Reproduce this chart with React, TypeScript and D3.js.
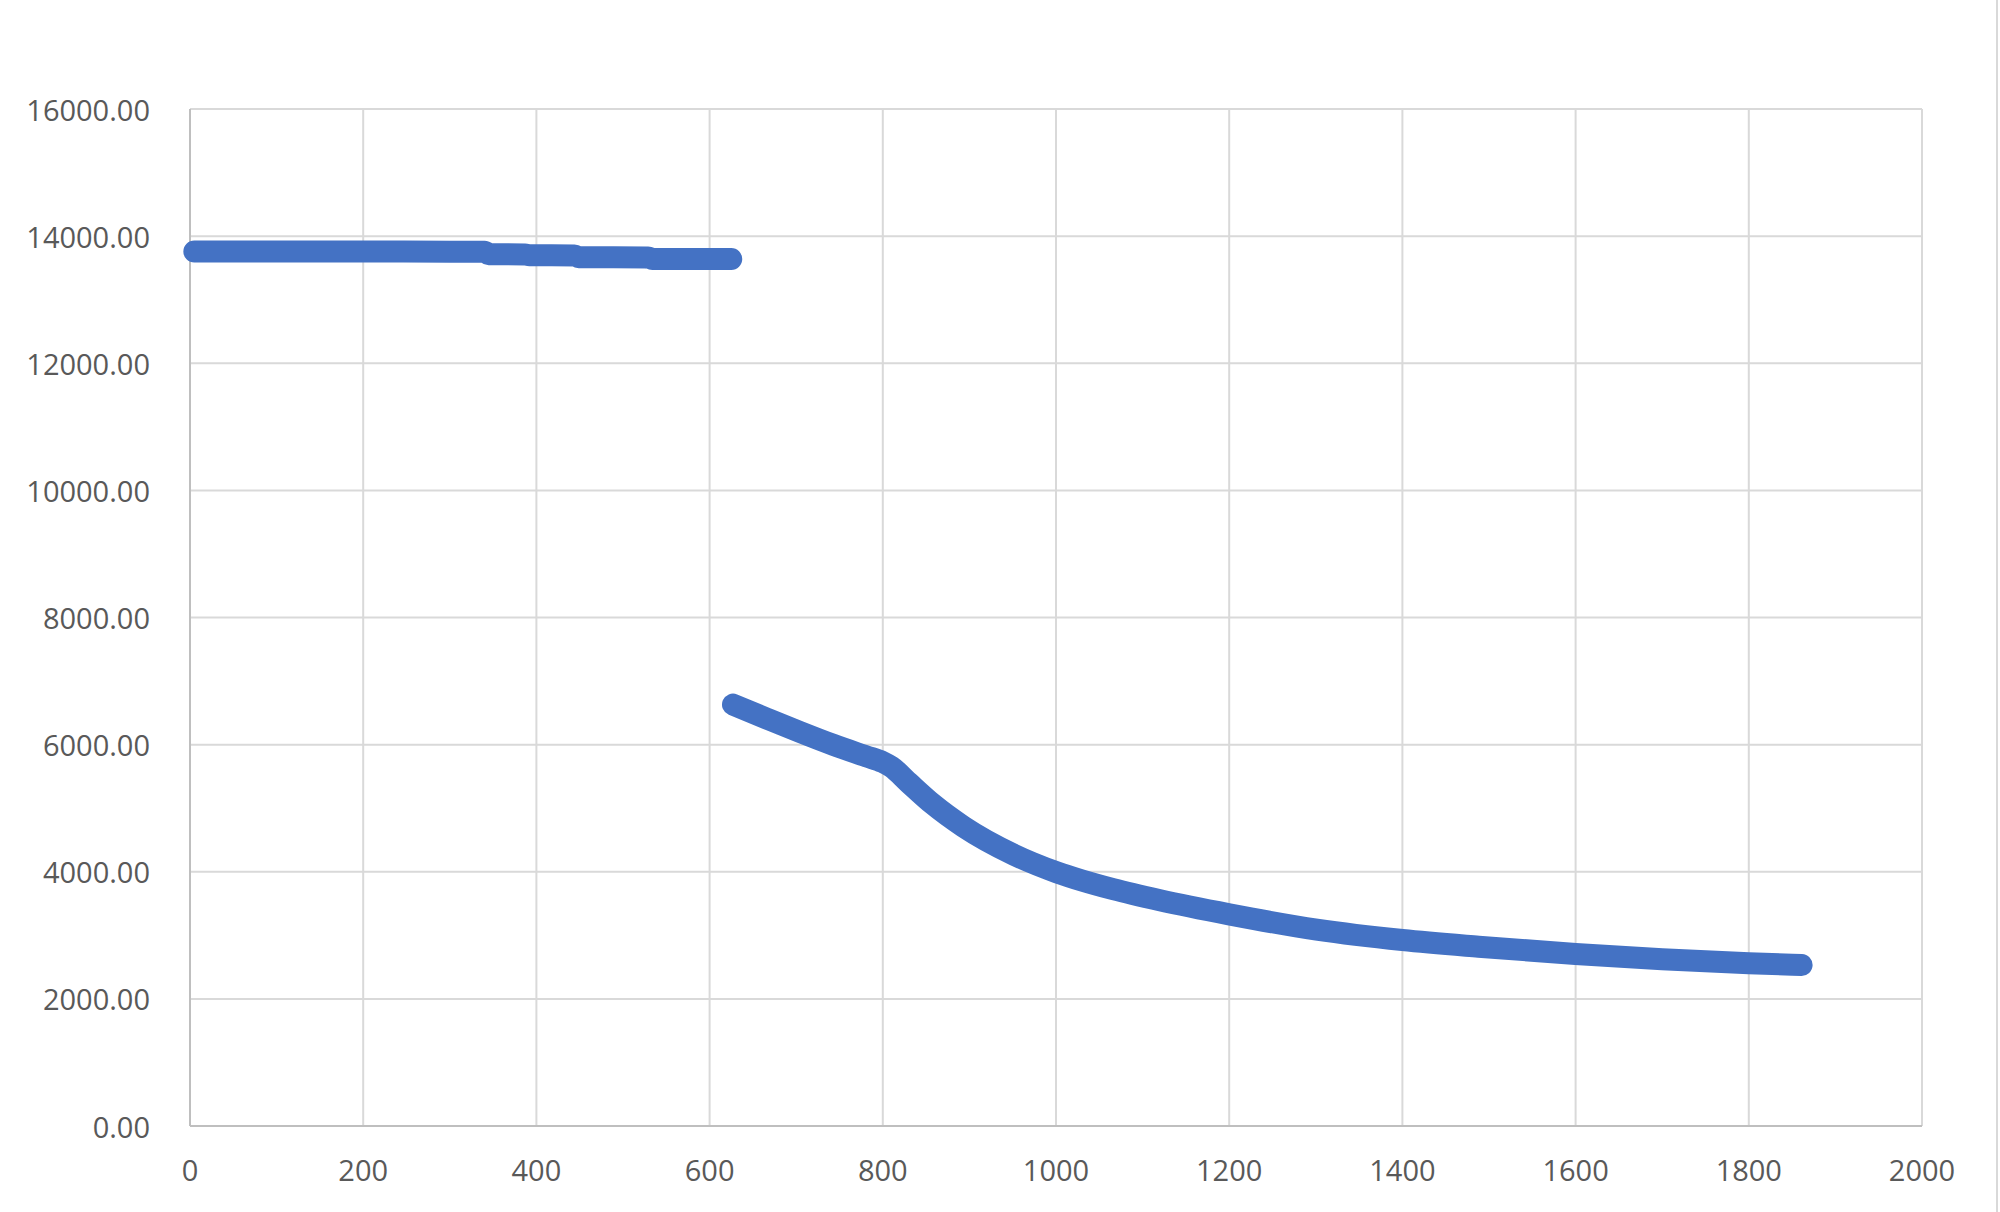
import React from "react";
import * as d3 from "d3";

const xTicks = [0, 200, 400, 600, 800, 1000, 1200, 1400, 1600, 1800, 2000];
const yTicks = [0, 2000, 4000, 6000, 8000, 10000, 12000, 14000, 16000];

const seg1X = [5, 100, 200, 300, 340, 345, 387, 392, 444, 449, 529, 534, 625];
const seg1Y = [13758, 13758, 13758, 13756, 13754, 13716, 13712, 13700, 13697, 13668, 13665, 13642, 13640];

const seg2X = [627, 666, 704, 743, 781, 800, 810, 830, 858, 893, 951, 1001, 1066, 1120, 1200, 1301, 1400, 1488, 1600, 1700, 1800, 1861];
const seg2Y = [6630, 6410, 6200, 5995, 5815, 5725, 5650, 5400, 5060, 4710, 4270, 3990, 3725, 3550, 3330, 3090, 2926, 2821, 2706, 2622, 2560, 2533];

const W = 2000;
const H = 1212;
const left = 190;
const right = 1922;
const top = 109;
const bottom = 1126;

export default function App() {
  const x = d3.scaleLinear().domain([0, 2000]).range([left, right]);
  const y = d3.scaleLinear().domain([0, 16000]).range([bottom, top]);
  const line = d3
    .line<[number, number]>()
    .x((d) => x(d[0]))
    .y((d) => y(d[1]))
    .curve(d3.curveMonotoneX);
  const s1 = seg1X.map((v, i) => [v, seg1Y[i]] as [number, number]);
  const s2 = seg2X.map((v, i) => [v, seg2Y[i]] as [number, number]);
  const font = "'Open Sans', 'Noto Sans', sans-serif";
  return (
    <svg
      width={W}
      height={H}
      style={{ position: "absolute", left: 0, top: 0, background: "#fff" }}
    >
      <rect x={0} y={0} width={W} height={H} fill="#fff" />
      {yTicks.map((t) => (
        <line key={"gy" + t} x1={left} x2={right} y1={y(t)} y2={y(t)} stroke="#d9d9d9" strokeWidth={2} />
      ))}
      {xTicks.map((t) => (
        <line key={"gx" + t} x1={x(t)} x2={x(t)} y1={top} y2={bottom} stroke="#d9d9d9" strokeWidth={2} />
      ))}
      <line x1={left} x2={left} y1={top} y2={bottom} stroke="#bfbfbf" strokeWidth={2} />
      <line x1={left} x2={right} y1={bottom} y2={bottom} stroke="#bfbfbf" strokeWidth={2} />
      <line x1={1997} x2={1997} y1={0} y2={H} stroke="#d9d9d9" strokeWidth={2} />
      {yTicks.map((t) => (
        <text
          key={"ly" + t}
          x={150}
          y={y(t)}
          textAnchor="end"
          dominantBaseline="central"
          fontFamily={font}
          fontSize={29}
          fill="#595959"
        >
          {d3.format(".2f")(t)}
        </text>
      ))}
      {xTicks.map((t) => (
        <text
          key={"lx" + t}
          x={x(t)}
          y={1169}
          textAnchor="middle"
          dominantBaseline="central"
          fontFamily={font}
          fontSize={29}
          fill="#595959"
        >
          {t}
        </text>
      ))}
      <path d={line(s1) || ""} fill="none" stroke="#4472C4" strokeWidth={22} strokeLinecap="round" strokeLinejoin="round" />
      <path d={line(s2) || ""} fill="none" stroke="#4472C4" strokeWidth={22} strokeLinecap="round" strokeLinejoin="round" />
    </svg>
  );
}
